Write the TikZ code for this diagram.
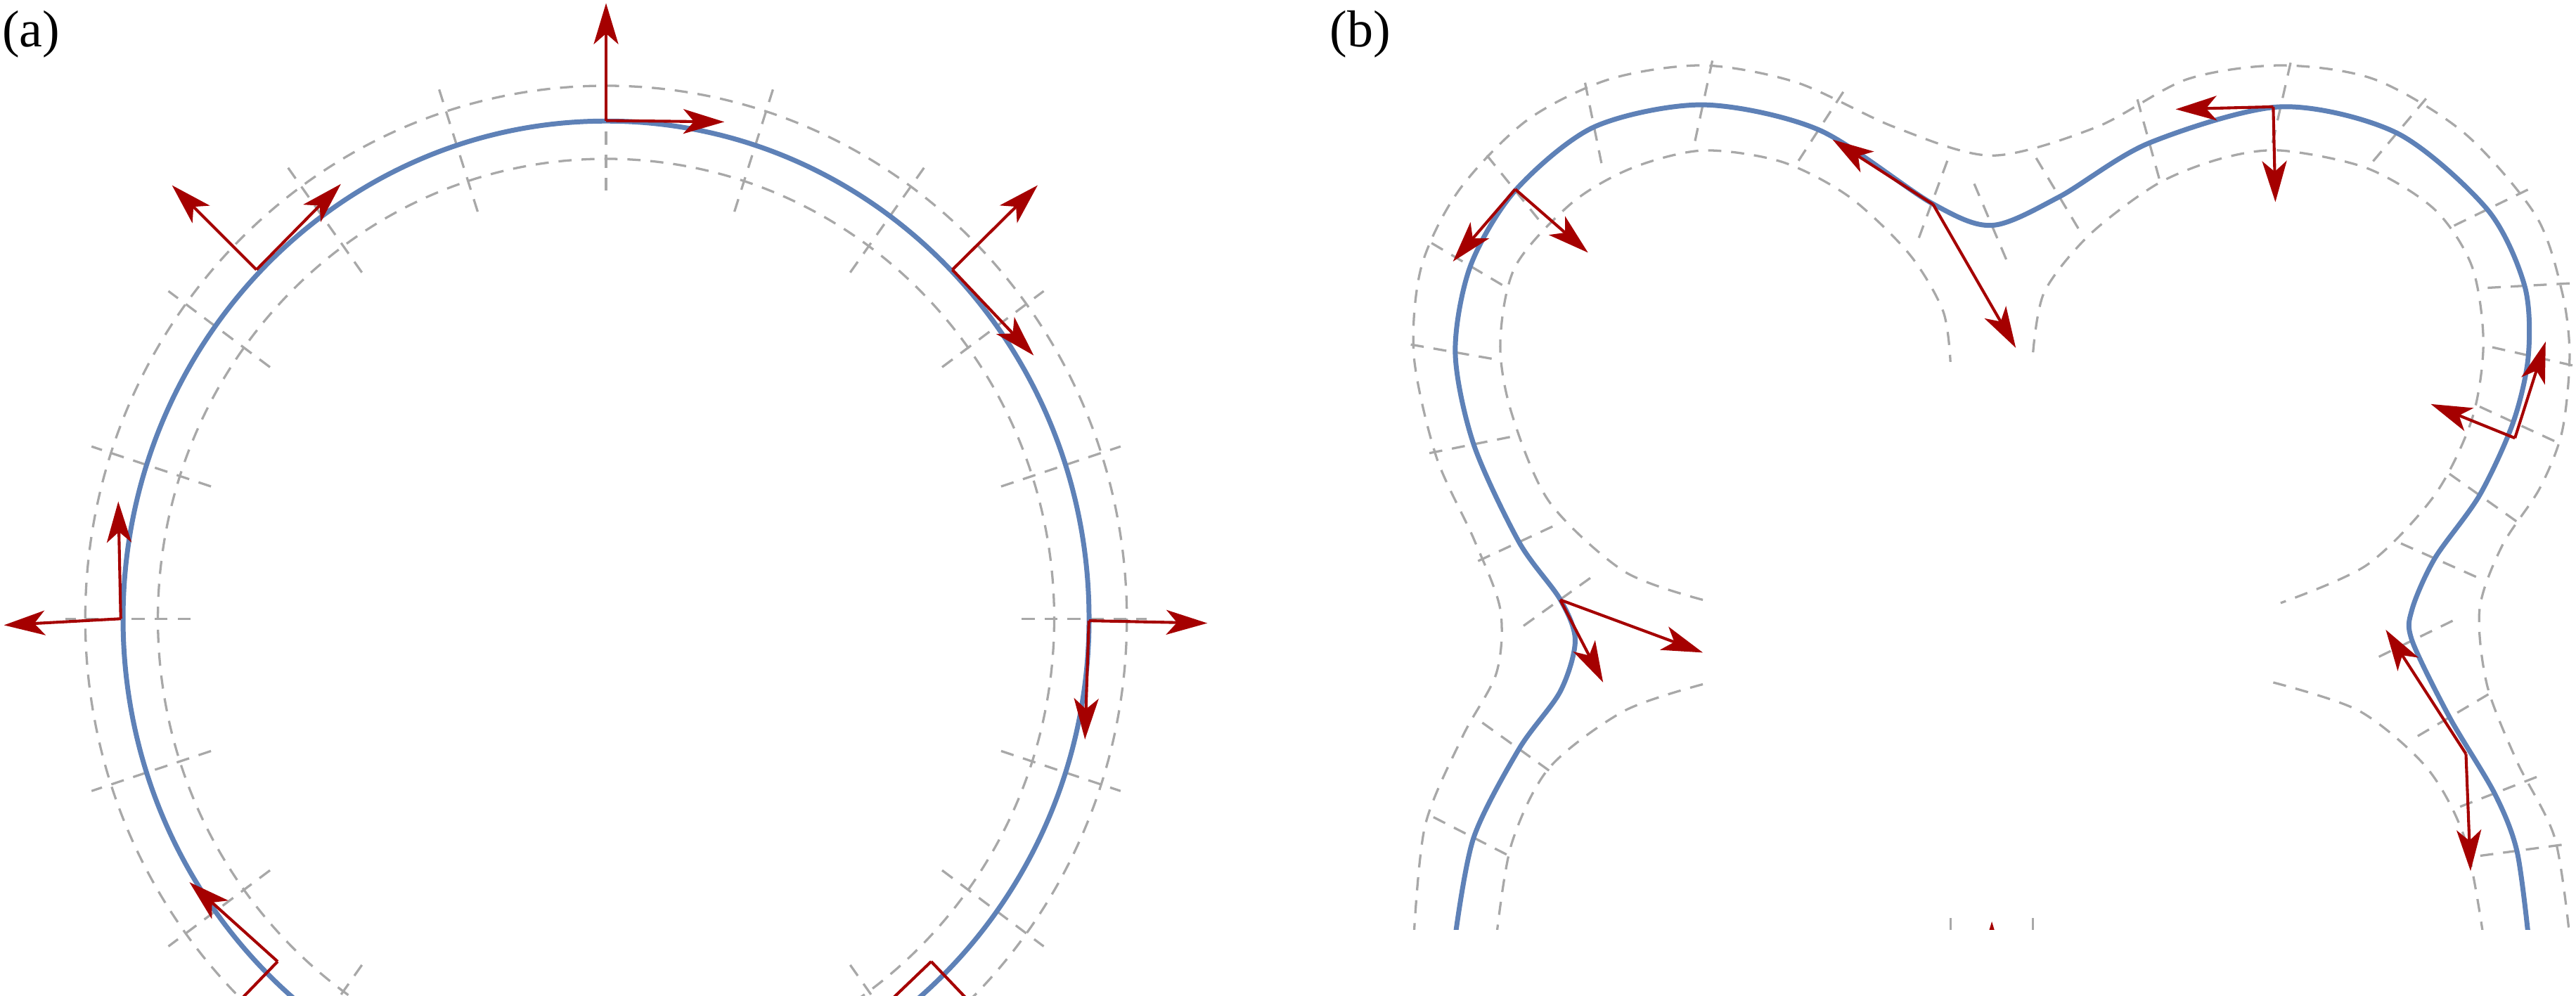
\documentclass[tikz,border=0pt]{standalone}
\usepackage{fontspec}
\setmainfont{Liberation Serif}
\usetikzlibrary{arrows.meta,calc}
\definecolor{curveblue}{RGB}{94,129,183}
\definecolor{vecred}{RGB}{165,0,0}
\definecolor{bandgray}{RGB}{168,168,168}
\tikzset{
  curve/.style={curveblue,line width=1.7pt},
  band/.style={bandgray,line width=0.8pt,dash pattern=on 1.6mm off 1.2mm},
  vec/.style={vecred,line width=1pt,-{Stealth[length=5mm,width=3mm,inset=1.3mm]}},
  panel/.style={font=\fontsize{18}{20}\selectfont}
}
\begin{document}
\begin{tikzpicture}[x=0.02cm,y=-0.02cm]
\useasboundingbox (0,0) rectangle (1568,606);
\node[panel] (la) at (19,21) {(a)};
\node[panel] (lb) at (828,21) {(b)};
% panel (a)
\begin{scope}
\clip (0,0) rectangle (800,606);
\draw[band] (368.9,376.7) ellipse [x radius=317,y radius=324.5];
\draw[band] (368.9,376.7) ellipse [x radius=272.8,y radius=280];
\foreach \a in {0,18,...,342}
  \draw[band] ({368.9+294*0.86*cos(\a)},{376.7-303*0.86*sin(\a)}) --
    ({368.9+294*1.12*cos(\a)},{376.7-303*1.12*sin(\a)});
\draw[curve] (368.9,376.7) ellipse [x radius=294,y radius=303];
\coordinate (a1) at (368.9,73.4);
\coordinate (a2) at (156.1,164.2);
\coordinate (a3) at (579.7,164.2);
\coordinate (a4) at (73.5,376.7);
\coordinate (a5) at (662.8,377.9);
\coordinate (a6) at (169,585.4);
\coordinate (a7) at (566.8,585.4);
\draw[vec] (a1) -- (368.9,1.9);
\draw[vec] (a1) -- (440.9,74.2);
\draw[vec] (a2) -- (104.7,112.8);
\draw[vec] (a2) -- (207.5,112);
\draw[vec] (a3) -- (631.6,112.8);
\draw[vec] (a3) -- (629.2,216.4);
\draw[vec] (a4) -- (2.4,380.6);
\draw[vec] (a4) -- (72,305.3);
\draw[vec] (a5) -- (734.9,379.4);
\draw[vec] (a5) -- (660.4,450.2);
\draw[vec] (a6) -- (115.3,537.1);
\draw[vec] (a6) -- (119,637);
\draw[vec] (a7) -- (616,637);
\draw[vec] (a7) -- (515,635);
\end{scope}
% panel (b)
\begin{scope}
\clip (845,0) rectangle (1568,566);
\draw[band] plot[smooth] coordinates {(860.6,570) (867.5,502.4) (890.3,448.3)
  (910.9,409.6) (913.2,371) (897.2,328.4) (874.3,278.2) (860.6,216.4)
  (865.2,162.3) (888,115.9) (929.2,73.4) (979.4,48.3) (1036.5,39.8)
  (1093.6,50.2) (1153,77.3) (1212.4,94.7) (1276.3,77.3) (1331.1,48.3)
  (1388.2,39.8) (1445.3,48.3) (1500.1,81.1) (1543.6,131.4) (1559.5,177.7)
  (1564.1,216.4) (1559.5,262.8) (1545.8,297.5) (1523,332.3) (1509.3,371)
  (1513.9,417.3) (1532.1,463.7) (1555,510) (1564.1,570)};
\draw[band] plot[smooth] coordinates {(1036.5,365.2) (988.5,347.8) (942.9,305.3)
  (920,251.2) (913.2,208.7) (922.3,162.3) (956.6,123.7) (993.1,102.4)
  (1036.5,91.6) (1084.5,98.5) (1125.6,119.8) (1162.1,154.6) (1182.7,189.3)
  (1187.2,220.3)};
\draw[band] plot[smooth] coordinates {(1237.5,214.5) (1244.4,177.7) (1271.8,143)
  (1312.9,112.1) (1351.7,96.6) (1388.2,91.6) (1440.8,102.4) (1481.9,127.5)
  (1504.7,162.3) (1511.6,208.7) (1504.7,255) (1481.9,301.5) (1440.8,343.9)
  (1388.2,367.1)};
\draw[band] plot[smooth] coordinates {(1036.5,416.6) (988.5,432.9) (942.9,467.6)
  (920,514) (910.9,570)};
\draw[band] plot[smooth] coordinates {(1383.7,415.5) (1436.2,432.9) (1477.3,467.6)
  (1500.1,510) (1511.6,570)};
\draw[band] (1187.2,559) -- (1187.2,570);
\draw[band] (1237.5,559) -- (1237.5,570);
% normal ticks across the band
\foreach \px/\py/\qx/\qy in {897/510/924.6/456, 924.6/456/949.7/421,
  949.7/365/924.6/330, 924.6/330/897/270.5, 897/270.5/885.8/214.5,
  885.8/214.5/895/162, 895/162/922.3/116, 922.3/116/970.3/77.3,
  970.3/77.3/1036.5/63.8, 1036.5/63.8/1107/79, 1107/79/1175.8/123.7,
  1175.8/123.7/1212.4/137.2, 1212.4/137.2/1253.5/119.8, 1253.5/119.8/1308.3/87,
  1308.3/87/1388.2/65, 1388.2/65/1459/81, 1459/81/1514/127.5,
  1514/127.5/1536.7/174, 1536.7/174/1539/216.4, 1539/216.4/1529.8/257,
  1529.8/257/1509.3/301.5, 1509.3/301.5/1482/340, 1482/340/1468.2/371,
  1468.2/390/1491/436.7, 1491/436.7/1518.4/483, 1518.4/483/1532/518,
  1532/518/1539/570}
  \draw[band] ($(\px,\py)!0.55cm!90:(\qx,\qy)$) -- ($(\px,\py)!0.55cm!-90:(\qx,\qy)$);
\draw[curve] plot[smooth] coordinates {(885.8,570) (897,510) (924.6,456)
  (949.7,421) (958.8,390) (949.7,365) (924.6,330) (897,270.5) (885.8,214.5)
  (895,162) (922.3,116) (970.3,77.3) (1036.5,63.8) (1107,79) (1175.8,123.7)
  (1212.4,137.2) (1253.5,119.8) (1308.3,87) (1388.2,65) (1459,81)
  (1514,127.5) (1536.7,174) (1539,216.4) (1529.8,257) (1509.3,301.5)
  (1482,340) (1468.2,371) (1468.2,390) (1491,436.7) (1518.4,483)
  (1532,518) (1539,570)};
\coordinate (b1) at (922.3,115.2);
\coordinate (b2) at (1176.7,124.5);
\coordinate (b3) at (1383.7,65);
\coordinate (b4) at (1530.8,266.7);
\coordinate (b5) at (949.7,365.2);
\coordinate (b6) at (1501,459);
\coordinate (b7) at (1212.4,640);
\draw[vec] (b1) -- (884.4,159.2);
\draw[vec] (b1) -- (966.6,153.8);
\draw[vec] (b2) -- (1115.5,85);
\draw[vec] (b2) -- (1227,211.8);
\draw[vec] (b3) -- (1324.3,66.5);
\draw[vec] (b3) -- (1385,123);
\draw[vec] (b4) -- (1549.5,208);
\draw[vec] (b4) -- (1479.6,246);
\draw[vec] (b5) -- (1036.5,397.3);
\draw[vec] (b5) -- (975.8,415.5);
\draw[vec] (b6) -- (1452.2,383.4);
\draw[vec] (b6) -- (1503.8,530.3);
\draw[vec] (b7) -- (1212.4,561);
\end{scope}
\end{tikzpicture}
\end{document}
